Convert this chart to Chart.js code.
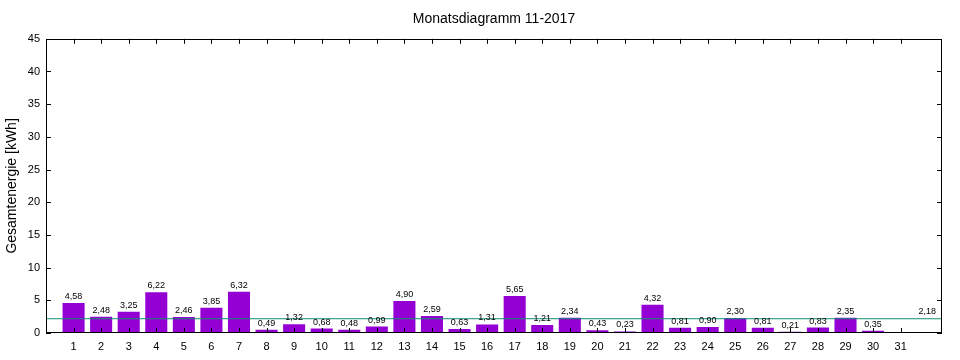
<!DOCTYPE html>
<html><head><meta charset="utf-8">
<script src="https://cdn.jsdelivr.net/npm/chart.js@4"></script>
<style>html,body{margin:0;padding:0;background:#fff}#w{width:960px;height:360px}</style>
</head><body><div id="w"><canvas id="c"></canvas></div>
<script>
const days = [1,2,3,4,5,6,7,8,9,10,11,12,13,14,15,16,17,18,19,20,21,22,23,24,25,26,27,28,29,30,31];
const energy = [4.58,2.48,3.25,6.22,2.46,3.85,6.32,0.49,1.32,0.68,0.48,0.99,4.90,2.59,0.63,1.31,5.65,1.21,2.34,0.43,0.23,4.32,0.81,0.90,2.30,0.81,0.21,0.83,2.35,0.35,null];
const average = 2.18;
const xRange = [0, 32.5];
const yTicks = [0,5,10,15,20,25,30,35,40,45];
const titleText = 'Monatsdiagramm 11-2017';
const yTitle = 'Gesamtenergie [kWh]';

const fmt = v => v.toFixed(2).replace('.', ',');
const FONT = 'Liberation Sans, Arial, sans-serif';

const framePlugin = {
  id: 'frame',
  afterDatasetsDraw(chart) {
    const ctx = chart.ctx, a = chart.chartArea, xs = chart.scales.x, ys = chart.scales.y;
    ctx.save();
    ctx.font = '9px ' + FONT;
    ctx.fillStyle = '#000';
    ctx.textAlign = 'center';
    ctx.textBaseline = 'bottom';
    days.forEach((d, i) => {
      const v = energy[i];
      if (v == null) return;
      ctx.fillText(fmt(v), xs.getPixelForValue(d), ys.getPixelForValue(v) - 2);
    });
    ctx.textAlign = 'right';
    ctx.fillText(fmt(average), a.right - 6, ys.getPixelForValue(average) - 3);
    ctx.strokeStyle = '#000';
    ctx.lineWidth = 1;
    ctx.strokeRect(Math.round(a.left) + 0.5, Math.round(a.top) + 0.5, Math.round(a.right - a.left) - 1, Math.round(a.bottom - a.top) - 1);
    ctx.beginPath();
    yTicks.forEach(t => {
      const y = Math.round(ys.getPixelForValue(t)) + 0.5;
      ctx.moveTo(a.left, y); ctx.lineTo(a.left + 5, y);
      ctx.moveTo(a.right, y); ctx.lineTo(a.right - 5, y);
    });
    days.forEach(d => {
      const x = Math.round(xs.getPixelForValue(d)) + 0.5;
      ctx.moveTo(x, a.bottom); ctx.lineTo(x, a.bottom - 5);
      ctx.moveTo(x, a.top); ctx.lineTo(x, a.top + 5);
    });
    ctx.stroke();
    ctx.restore();
  }
};

new Chart(document.getElementById('c'), {
  type: 'bar',
  data: {
    datasets: [
      {
        type: 'line',
        data: xRange.map(x => ({x, y: average})),
        borderColor: '#118f74',
        borderWidth: 1,
        pointRadius: 0,
        order: 0
      },
      {
        type: 'bar',
        data: days.map((d, i) => ({x: d, y: energy[i]})),
        backgroundColor: '#9400d3',
        barPercentage: 0.8,
        categoryPercentage: 1,
        order: 1
      }
    ]
  },
  plugins: [framePlugin],
  options: {
    responsive: true,
    maintainAspectRatio: false,
    animation: false,
    layout: {padding: {left: 0, right: 18, top: 0, bottom: 0}},
    plugins: {
      legend: {display: false},
      tooltip: {enabled: false},
      title: {
        display: true, text: titleText, color: '#000', fullSize: false,
        font: {family: FONT, size: 14, weight: 'normal'},
        padding: {top: 11, bottom: 11}
      }
    },
    scales: {
      x: {
        type: 'linear', min: xRange[0], max: xRange[1], offset: false,
        afterFit(s) { s.height = 27; },
        afterBuildTicks(s) { s.ticks = days.map(d => ({value: d})); },
        grid: {display: false, drawTicks: false, offset: false},
        border: {display: false},
        ticks: {
          color: '#000', font: {family: FONT, size: 11}, padding: 7,
          maxRotation: 0, autoSkip: false,
          callback: v => String(v)
        }
      },
      y: {
        min: 0, max: 45,
        afterFit(s) { s.width = 46; },
        afterBuildTicks(s) { s.ticks = yTicks.map(v => ({value: v})); },
        grid: {display: false, drawTicks: false},
        border: {display: false},
        ticks: {color: '#000', font: {family: FONT, size: 11}, padding: 6},
        title: {
          display: true, text: yTitle, color: '#000',
          font: {family: FONT, size: 14}, padding: {top: 4, bottom: 0}
        }
      }
    }
  }
});
</script>
</body></html>
